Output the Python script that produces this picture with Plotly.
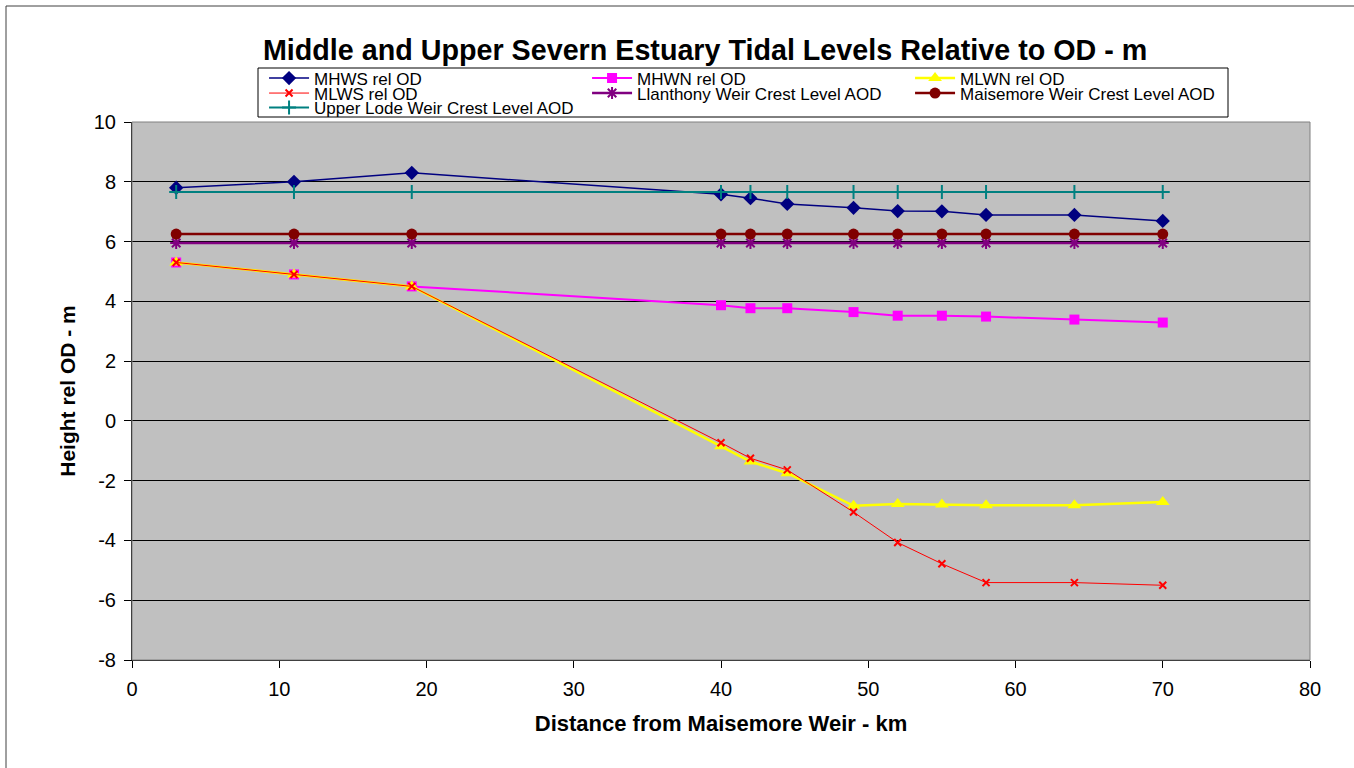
import plotly.graph_objects as go

# Distance from Maisemore Weir (km)
distance_km = [3, 11, 19, 40, 42, 44.5, 49, 52, 55, 58, 64, 70]

# Tidal levels relative to OD (m)
mhws = [7.80, 8.00, 8.30, 7.58, 7.45, 7.26, 7.13, 7.02, 7.01, 6.89, 6.89, 6.69]
mhwn = [5.30, 4.90, 4.50, 3.87, 3.77, 3.77, 3.64, 3.52, 3.52, 3.49, 3.39, 3.29]
mlwn = [5.30, 4.90, 4.50, -0.85, -1.36, -1.75, -2.84, -2.78, -2.80, -2.82, -2.82, -2.71]
mlws = [5.30, 4.90, 4.50, -0.73, -1.25, -1.64, -3.05, -4.07, -4.78, -5.41, -5.41, -5.50]

# Weir crest levels (m AOD)
llanthony = [5.95, 5.95, 5.95, 5.95, 5.95, 5.95, 5.95, 5.95, 5.95, 5.95, 5.95, 5.95]
maisemore = [6.25, 6.25, 6.25, 6.25, 6.25, 6.25, 6.25, 6.25, 6.25, 6.25, 6.25, 6.25]
upper_lode = [7.66, 7.66, 7.66, 7.66, 7.66, 7.66, 7.66, 7.66, 7.66, 7.66, 7.66, 7.66]

x_ticks = [0, 10, 20, 30, 40, 50, 60, 70, 80]
y_ticks = [-8, -6, -4, -2, 0, 2, 4, 6, 8, 10]

FONT = "Liberation Sans, Arial, sans-serif"

series = [
    # name, values, colour, symbol, marker size, line width, legend row
    ("MHWS rel OD", mhws, "#000080", "diamond", 11, 1.5, "legend"),
    ("MHWN rel OD", mhwn, "#FF00FF", "square", 10, 2, "legend"),
    ("MLWN rel OD", mlwn, "#FFFF00", "triangle-up", 12, 2.5, "legend"),
    ("MLWS rel OD", mlws, "#FF0000", "x-thin", 7, 1, "legend2"),
    ("Llanthony Weir Crest Level AOD", llanthony, "#800080", "asterisk", 10, 2.5, "legend2"),
    ("Maisemore Weir Crest Level AOD", maisemore, "#800000", "circle", 11, 2.5, "legend2"),
    ("Upper Lode Weir Crest Level AOD", upper_lode, "#008080", "cross-thin", 10, 2, "legend3"),
]

fig = go.Figure()
for name, vals, colour, symbol, msize, lw, leg in series:
    fig.add_trace(go.Scatter(
        x=distance_km, y=vals, name=name, mode="lines+markers",
        line=dict(color=colour, width=lw),
        marker=dict(symbol=symbol, size=msize, color=colour,
                    line=dict(color=colour, width=2 if symbol in ("x-thin", "asterisk", "cross-thin") else 0)),
        legend=leg,
    ))

legend_common = dict(
    orientation="h", xanchor="left", yanchor="top", x=0.1121,
    bgcolor="rgba(0,0,0,0)", borderwidth=0,
    font=dict(family=FONT, size=17, color="#000000"),
    itemwidth=40, entrywidth=268, entrywidthmode="pixels",
    itemclick=False, itemdoubleclick=False,
)
PLOT_TOP, PLOT_H = 122, 538


def legend_y(row_centre):
    # convert a row centre (px from top) to the paper y of the legend's top edge
    return 1 + (PLOT_TOP - (row_centre - 17.5)) / PLOT_H


fig.update_layout(
    width=1354, height=768,
    margin=dict(l=132, r=44, t=122, b=108),
    paper_bgcolor="#FFFFFF",
    plot_bgcolor="#C0C0C0",
    font=dict(family=FONT, color="#000000"),
    title=dict(
        text="<b>Middle and Upper Severn Estuary Tidal Levels Relative to OD - m</b>",
        font=dict(family=FONT, size=28.7, color="#000000"),
        x=0.4865, xref="paper", xanchor="center",
        y=1 - 50 / 768, yref="container", yanchor="middle",
    ),
    legend=dict(legend_common, y=legend_y(78)),
    legend2=dict(legend_common, y=legend_y(93)),
    legend3=dict(legend_common, y=legend_y(107.5)),
    showlegend=True,
    xaxis=dict(
        range=[0, 80], tickvals=x_ticks, ticktext=[str(v) for v in x_ticks],
        showgrid=False, zeroline=False,
        showline=True, linecolor="#000000", linewidth=1,
        ticks="outside", ticklen=7, tickcolor="#000000", tickwidth=1,
        ticklabelstandoff=4,
        tickfont=dict(family=FONT, size=20, color="#000000"),
        title=dict(text="<b>Distance from Maisemore Weir - km</b>",
                   font=dict(family=FONT, size=22, color="#000000"), standoff=16),
    ),
    yaxis=dict(
        range=[-8, 10], tickvals=y_ticks, ticktext=[str(v) for v in y_ticks],
        showgrid=True, gridcolor="#000000", gridwidth=1, zeroline=False,
        showline=True, linecolor="#000000", linewidth=1,
        ticks="outside", ticklen=7, tickcolor="#000000", tickwidth=1,
        ticklabelstandoff=4,
        tickfont=dict(family=FONT, size=20, color="#000000"),
        title=dict(text="<b>Height rel OD - m</b>",
                   font=dict(family=FONT, size=21, color="#000000"), standoff=12),
    ),
    shapes=[
        # outer chart frame
        dict(type="rect", xref="paper", yref="paper",
             x0=(6 - 132) / 1178, x1=1.2, y0=-0.4, y1=1 + (122 - 6) / 538,
             line=dict(color="#404040", width=1), fillcolor="rgba(0,0,0,0)", layer="below"),
        # plot area border (top / right)
        dict(type="rect", xref="paper", yref="paper", x0=0, x1=1, y0=0, y1=1,
             line=dict(color="#808080", width=1), fillcolor="rgba(0,0,0,0)", layer="above"),
        # legend box
        dict(type="rect", xref="paper", yref="paper",
             x0=(258 - 132) / 1178, x1=(1228 - 132) / 1178,
             y0=1 + (122 - 117) / 538, y1=1 + (122 - 68) / 538,
             line=dict(color="#000000", width=1), fillcolor="#FFFFFF", layer="above"),
    ],
)

fig.write_html("out.html")
